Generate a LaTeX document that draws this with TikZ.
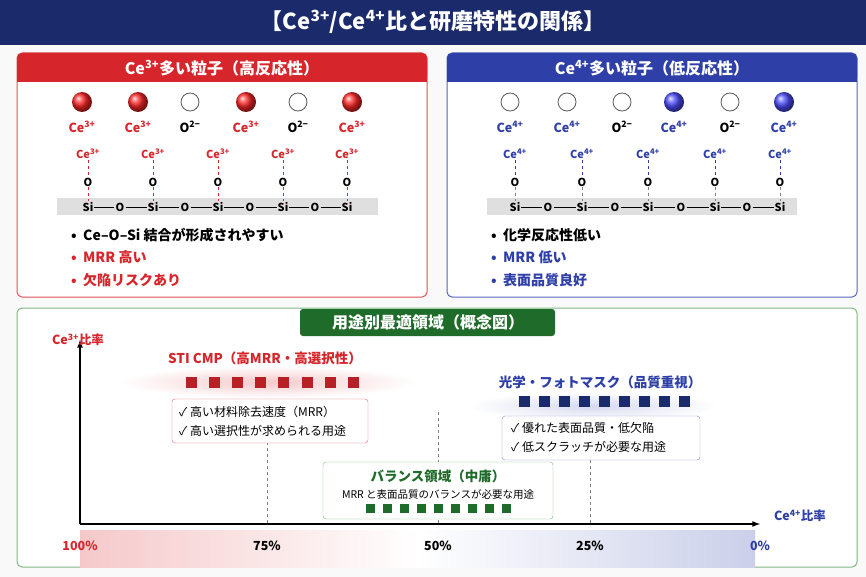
\documentclass[tikz,border=0pt]{standalone}
\usepackage{fontspec}
\setmainfont{Noto Sans CJK JP}
\usetikzlibrary{shapes.geometric}
\definecolor{navy}{HTML}{1B2A6B}
\definecolor{rd}{HTML}{D7262B}
\definecolor{bl}{HTML}{2E3FA8}
\definecolor{gr}{HTML}{1E6B2A}
\definecolor{grl}{HTML}{7DB883}
\newcommand{\sps}[1]{\textsuperscript{#1}}
\begin{document}
\begin{tikzpicture}[x=1pt,y=-1pt,
  panel/.style={draw,rounded corners=5pt,line width=1pt,fill=white},
  lbl/.style={font=\fontsize{12.5}{14}\selectfont\bfseries,inner sep=1pt},
  small/.style={font=\fontsize{11}{12}\selectfont\bfseries,inner sep=1pt},
  bullet/.style={font=\fontsize{14}{16}\selectfont\bfseries,anchor=west,inner sep=1pt},
  chk/.style={font=\fontsize{12}{14}\selectfont,anchor=west,inner sep=1pt},
  sq/.style={minimum size=11pt,inner sep=0pt}]
\useasboundingbox (0,0) rectangle (866,577);
\fill[white!95!gray] (0,0) rectangle (866,577);
% title
\fill[navy] (0,0) rectangle (866,45);
\node[text=white,font=\fontsize{22}{24}\selectfont\bfseries] (title) at (433,22) {【Ce\sps{3+}/Ce\sps{4+}比と研磨特性の関係】};
% ---- left panel
\draw[panel,draw=rd!80] (17,53) rectangle (427,297);
\fill[rd,rounded corners=5pt] (17,53) rectangle (427,82);
\fill[rd] (17,70) rectangle (427,82);
\node[text=white,font=\fontsize{16}{18}\selectfont\bfseries] (lh) at (222,68) {Ce\sps{3+}多い粒子（高反応性）};
\foreach \x/\t [count=\i] in {82/1,138/1,190/0,246/1,298/0,352/1}{
  \ifnum\t=1
    \shade[ball color=red!85!white] (\x,102) circle (10);
    \node[lbl,text=rd] (la\i) at (\x,127) {Ce\sps{3+}};
  \else
    \draw[gray!70!black,fill=white,line width=0.8pt] (\x,102) circle (9);
    \node[lbl] (la\i) at (\x,127) {O\sps{2−}};
  \fi}
\fill[gray!25] (57,198) rectangle (378,215);
\foreach \x [count=\i] in {88,153,218,283,347}{
  \node[small,text=rd] (lc\i) at (\x,154) {Ce\sps{3+}};
  \node[small] (lo\i) at (\x,182) {O};
  \node[small] (ls\i) at (\x,207) {Si};
  \draw[rd,dashed] (lc\i) -- (lo\i);
  \draw[rd,dashed] (lo\i) -- (ls\i);}
\foreach \i/\j/\x in {1/2/120,2/3/185,3/4/250,4/5/315}{
  \node[small] (lb\i) at (\x,207) {O};
  \draw (ls\i) -- (lb\i) -- (ls\j);}
\node[bullet] (lt1) at (70,235) {•\ \ Ce–O–Si 結合が形成されやすい};
\node[bullet,text=rd] (lt2) at (70,257) {•\ \ MRR 高い};
\node[bullet,text=rd] (lt3) at (70,280) {•\ \ 欠陥リスクあり};
% ---- right panel
\draw[panel,draw=bl!80] (447,53) rectangle (857,297);
\fill[bl,rounded corners=5pt] (447,53) rectangle (857,82);
\fill[bl] (447,70) rectangle (857,82);
\node[text=white,font=\fontsize{16}{18}\selectfont\bfseries] (rh) at (652,68) {Ce\sps{4+}多い粒子（低反応性）};
\foreach \x/\t [count=\i] in {510/0,567/0,622/2,674/1,730/2,784/1}{
  \ifnum\t=1
    \shade[ball color=blue!70!white] (\x,102) circle (10);
  \else
    \draw[gray!70!black,fill=white,line width=0.8pt] (\x,102) circle (9);
  \fi
  \ifnum\t=2
    \node[lbl] (ra\i) at (\x,127) {O\sps{2−}};
  \else
    \node[lbl,text=bl] (ra\i) at (\x,127) {Ce\sps{4+}};
  \fi}
\fill[gray!25] (487,198) rectangle (797,215);
\foreach \x [count=\i] in {515,582,648,715,780}{
  \node[small,text=bl] (rc\i) at (\x,154) {Ce\sps{4+}};
  \node[small] (ro\i) at (\x,182) {O};
  \node[small] (rs\i) at (\x,207) {Si};
  \draw[bl,dashed] (rc\i) -- (ro\i);
  \draw[gray,dashed] (ro\i) -- (rs\i);}
\foreach \i/\j/\x in {1/2/548,2/3/615,3/4/681,4/5/747}{
  \node[small] (rb\i) at (\x,207) {O};
  \draw (rs\i) -- (rb\i) -- (rs\j);}
\node[bullet] (rt1) at (490,235) {•\ \ 化学反応性低い};
\node[bullet,text=bl] (rt2) at (490,257) {•\ \ MRR 低い};
\node[bullet,text=bl] (rt3) at (490,280) {•\ \ 表面品質良好};
% ---- bottom panel
\draw[panel,draw=grl] (17,308) rectangle (857,567);
\fill[gr,rounded corners=3pt] (300,309) rectangle (555,336);
\node[text=white,font=\fontsize{16}{18}\selectfont\bfseries] (bh) at (428,322) {用途別最適領域（概念図）};
% gradient bar
\shade[left color=rd!25,right color=white] (80,530) rectangle (418,567);
\shade[left color=white,right color=bl!25] (418,530) rectangle (755,567);
\coordinate (O) at (80,524);
\coordinate (Y) at (80,340);
\coordinate (X) at (760,524);
\foreach \x in {267,438,590}{\draw[gray,dashed] (\x,412) -- (\x,524);}
\draw[line width=1.6pt,-latex] (O) -- (Y);
\draw[line width=1.6pt,-latex] (O) -- (X);
\node[lbl,text=rd] (yl) at (78,340) {Ce\sps{3+}比率};
\node[lbl,text=bl] (xl) at (800,516) {Ce\sps{4+}比率};
\node[lbl,text=rd] (p100) at (80,546) {100\%};
\node[lbl] (p75) at (267,546) {75\%};
\node[lbl] (p50) at (438,546) {50\%};
\node[lbl] (p25) at (590,546) {25\%};
\node[lbl,text=bl] (p0) at (760,546) {0\%};
% STI
\node[text=rd,font=\fontsize{13.5}{15}\selectfont\bfseries] (sti) at (265,358) {STI CMP（高MRR・高選択性）};
\shade[inner color=rd!25,outer color=white] (268,382) ellipse (148 and 16);
\foreach \i in {0,...,7}{\node[sq,fill=rd!85!black] (s\i) at (191+23.2*\i,382) {};}
\draw[rd!70,fill=white,rounded corners=3pt] (172,399) rectangle (368,443);
\node[chk] (c1) at (178,412) {✓ 高い材料除去速度（MRR）};
\node[chk] (c2) at (178,431) {✓ 高い選択性が求められる用途};
% photomask
\node[text=bl,font=\fontsize{13.5}{15}\selectfont\bfseries] (pm) at (600,382) {光学・フォトマスク（品質重視）};
\shade[inner color=bl!20,outer color=white] (592,406) ellipse (125 and 14);
\foreach \i in {0,...,8}{\node[sq,fill=navy] (p\i) at (524+20*\i,401) {};}
\draw[bl!60,fill=white,rounded corners=3pt] (502,416) rectangle (700,460);
\node[chk] (d1) at (510,428) {✓ 優れた表面品質・低欠陥};
\node[chk] (d2) at (510,447) {✓ 低スクラッチが必要な用途};
% balance
\draw[grl,fill=white,rounded corners=3pt] (323,462) rectangle (553,519);
\node[text=gr,font=\fontsize{13.5}{15}\selectfont\bfseries] (bt) at (438,476) {バランス領域（中庸）};
\node[font=\fontsize{10.5}{12}\selectfont] (bs) at (438,494) {MRR と表面品質のバランスが必要な用途};
\foreach \i in {0,...,8}{\node[sq,minimum size=9pt,fill=gr] (g\i) at (370+17*\i,508) {};}
\end{tikzpicture}
\end{document}
